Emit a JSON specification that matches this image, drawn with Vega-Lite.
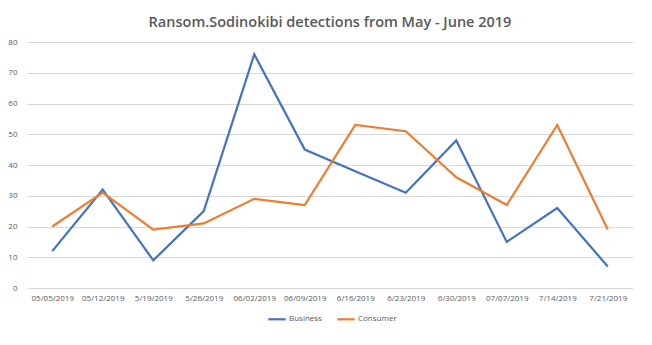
{
  "$schema": "https://vega.github.io/schema/vega-lite/v6.json",
  "autosize": "none",
  "width": 606,
  "height": 246,
  "padding": {"left": 27, "top": 42, "right": 19, "bottom": 57},
  "background": "white",
  "title": {
    "text": "Ransom.Sodinokibi detections from May - June 2019",
    "font": "Open Sans",
    "fontSize": 14.5,
    "fontWeight": 600,
    "color": "#595959",
    "anchor": "middle",
    "offset": 8
  },
  "data": {
    "values": [
      {"date": "05/05/2019", "series": "Business", "value": 12},
      {"date": "05/12/2019", "series": "Business", "value": 32},
      {"date": "5/19/2019", "series": "Business", "value": 9},
      {"date": "5/26/2019", "series": "Business", "value": 25},
      {"date": "06/02/2019", "series": "Business", "value": 76},
      {"date": "06/09/2019", "series": "Business", "value": 45},
      {"date": "6/16/2019", "series": "Business", "value": 38},
      {"date": "6/23/2019", "series": "Business", "value": 31},
      {"date": "6/30/2019", "series": "Business", "value": 48},
      {"date": "07/07/2019", "series": "Business", "value": 15},
      {"date": "7/14/2019", "series": "Business", "value": 26},
      {"date": "7/21/2019", "series": "Business", "value": 7},
      {"date": "05/05/2019", "series": "Consumer", "value": 20},
      {"date": "05/12/2019", "series": "Consumer", "value": 31},
      {"date": "5/19/2019", "series": "Consumer", "value": 19},
      {"date": "5/26/2019", "series": "Consumer", "value": 21},
      {"date": "06/02/2019", "series": "Consumer", "value": 29},
      {"date": "06/09/2019", "series": "Consumer", "value": 27},
      {"date": "6/16/2019", "series": "Consumer", "value": 53},
      {"date": "6/23/2019", "series": "Consumer", "value": 51},
      {"date": "6/30/2019", "series": "Consumer", "value": 36},
      {"date": "07/07/2019", "series": "Consumer", "value": 27},
      {"date": "7/14/2019", "series": "Consumer", "value": 53},
      {"date": "7/21/2019", "series": "Consumer", "value": 19}
    ]
  },
  "mark": {"type": "line", "strokeWidth": 2.2},
  "encoding": {
    "x": {
      "field": "date",
      "type": "ordinal",
      "sort": null,
      "scale": {"type": "point", "padding": 0.5},
      "axis": {
        "title": null,
        "labelAngle": 0,
        "ticks": false,
        "domain": false,
        "labelPadding": 6,
        "labelFont": "Open Sans",
        "labelFontSize": 8,
        "labelColor": "#595959"
      }
    },
    "y": {
      "field": "value",
      "type": "quantitative",
      "scale": {"domain": [0, 80], "nice": false},
      "axis": {
        "title": null,
        "values": [0, 10, 20, 30, 40, 50, 60, 70, 80],
        "ticks": false,
        "domain": false,
        "grid": true,
        "gridColor": "#d9d9d9",
        "gridWidth": 1,
        "labelPadding": 10,
        "labelFont": "Open Sans",
        "labelFontSize": 8,
        "labelColor": "#595959"
      }
    },
    "color": {
      "field": "series",
      "type": "nominal",
      "scale": {"domain": ["Business", "Consumer"], "range": ["#4472C4", "#ED7D31"]},
      "legend": {
        "title": null,
        "orient": "none",
        "legendX": 240,
        "legendY": 267,
        "direction": "horizontal",
        "symbolType": "stroke",
        "symbolSize": 300,
        "symbolStrokeWidth": 2.2,
        "labelFont": "Open Sans",
        "labelFontSize": 8,
        "labelColor": "#595959",
        "labelOffset": 2,
        "columnPadding": 10
      }
    }
  },
  "config": {"view": {"stroke": null}}
}
